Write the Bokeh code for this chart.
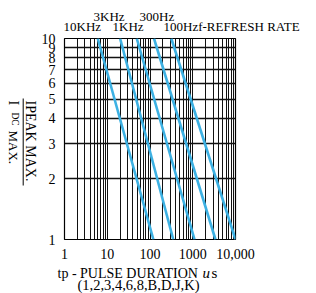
import math
from bokeh.plotting import figure
from bokeh.models import FixedTicker, Label, Range1d
from bokeh.layouts import row, column
from bokeh.embed import file_html
from bokeh.resources import INLINE

# ---- data ----
refresh_rates = ["10KHz", "3KHz", "1KHz", "300Hz", "100Hz"]
tp_at_ratio_10 = [6, 20, 49, 124, 315]        # pulse duration (us) where IPEAK/IDC = 10
tp_at_ratio_1 = [120, 350, 1100, 3400, 10000]  # pulse duration (us) where IPEAK/IDC = 1
ratio_top = 10
ratio_bottom = 1

x_tick_values = [1, 10, 100, 1000, 10000]
x_tick_labels = ["1", "10", "100", "1000", "10,000"]
y_tick_values = [1, 2, 3, 4, 5, 6, 7, 8, 9, 10]
y_tick_labels = ["1", "2", "3", "4", "5", "6", "7", "8", "9", "10"]

FONT = "Liberation Serif"
BLUE = "#3DB1E3"

# ---- geometry (page pixels) ----
YT_W = 38            # width of the y-title strip
RC_W = 316 - YT_W    # width of the right column
TOP_H = 33
MAIN_H = 230
BOT_H = 293 - TOP_H - MAIN_H
SHIFT = 4            # baseline compensation


def text_panel(w, h):
    f = figure(width=w, height=h, x_range=Range1d(0, w), y_range=Range1d(h, 0),
               output_backend="svg", toolbar_location=None, title=None,
               x_axis_location=None, y_axis_location=None,
               min_border_left=0, min_border_right=0,
               min_border_top=0, min_border_bottom=0,
               frame_align=False)
    f.outline_line_color = None
    f.background_fill_color = "white"
    f.border_fill_color = "white"
    f.grid.visible = False
    return f


def add_text(f, text, x, y, size, angle=0.0, style="normal"):
    f.add_layout(Label(x=x, y=y, text=text, text_font=FONT, text_font_size=size,
                       text_align="left", text_baseline="alphabetic", angle=angle,
                       text_font_style=style, text_color="black"))


# ---- main chart ----
p = figure(width=RC_W, height=MAIN_H, x_axis_type="log", y_axis_type="log",
           x_range=(1, 10000), y_range=(1, 10),
           output_backend="svg", toolbar_location=None, title=None,
           min_border_left=25, min_border_right=81,
           min_border_top=5, min_border_bottom=24, frame_align=False)
p.background_fill_color = "white"
p.border_fill_color = "white"
p.outline_line_color = "black"
p.outline_line_width = 1.2

x_minor = [m * d for d in x_tick_values[:-1] for m in range(2, 10)]
p.xaxis.ticker = FixedTicker(ticks=x_tick_values, minor_ticks=x_minor)
p.yaxis.ticker = FixedTicker(ticks=y_tick_values)
p.xaxis.major_label_overrides = {v: s for v, s in zip(x_tick_values, x_tick_labels)}
p.yaxis.major_label_overrides = {v: s for v, s in zip(y_tick_values, y_tick_labels)}

for ax in (p.xaxis, p.yaxis):
    ax.axis_line_color = None
    ax.major_tick_line_color = None
    ax.minor_tick_line_color = None
    ax.major_label_text_font = FONT
    ax.major_label_text_font_size = "14px"
    ax.major_label_text_color = "black"
    ax.major_label_standoff = 3

p.xgrid.grid_line_color = "#111111"
p.xgrid.grid_line_width = 1
p.xgrid.minor_grid_line_color = "#111111"
p.xgrid.minor_grid_line_width = 1
p.ygrid.grid_line_color = "#111111"
p.ygrid.grid_line_width = 1.4

p.multi_line(xs=[[a, b] for a, b in zip(tp_at_ratio_10, tp_at_ratio_1)],
             ys=[[ratio_top, ratio_bottom] for _ in refresh_rates],
             line_color=BLUE, line_width=2.6)

# ---- refresh-rate labels above the chart ----
top = text_panel(RC_W, TOP_H)
add_text(top, "3KHz", 55, 19.5 - SHIFT, "13px")
add_text(top, "300Hz", 101, 19.5 - SHIFT, "13px")
add_text(top, "10KHz", 25, 30 - SHIFT, "13px")
add_text(top, "1KHz", 74, 30 - SHIFT, "13px")
add_text(top, "100Hzf-REFRESH RATE", 125, 30 - SHIFT, "13px")

# ---- x title below the chart ----
bot = text_panel(RC_W, BOT_H)
add_text(bot, "tp - PULSE DURATION ", 19, 13.7 - SHIFT, "14px")
add_text(bot, "u", 164, 13.7 - SHIFT, "15px", style="italic")
add_text(bot, "s", 173, 13.7 - SHIFT, "15px")
add_text(bot, "(1,2,3,4,6,8,B,D,J,K)", 39, 25.5 - SHIFT, "14.5px")

# ---- y title (fraction, rotated clockwise) ----
yt = text_panel(YT_W, 293)
add_text(yt, "IPEAK MAX.", 26 + SHIFT, 100, "14px", angle=-math.pi / 2)
add_text(yt, "I", 8.5 + SHIFT, 100, "14px", angle=-math.pi / 2)
add_text(yt, "DC", 10 + SHIFT, 112, "9.5px", angle=-math.pi / 2)
add_text(yt, "MAX.", 8.5 + SHIFT, 130, "13px", angle=-math.pi / 2)
yt.line(x=[22.7, 22.7], y=[98, 185], line_color="black", line_width=1)

layout = row(yt, column(top, p, bot))
open("out.html", "w").write(file_html(layout, INLINE))
